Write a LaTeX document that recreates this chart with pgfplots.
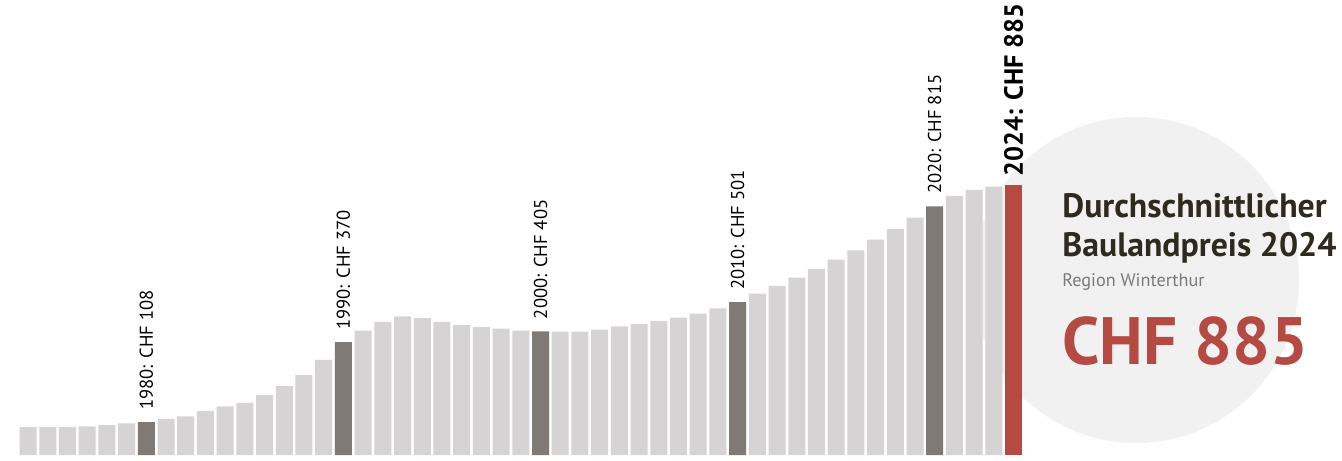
\documentclass[border=0pt]{standalone}
\usepackage{fontspec}
\setmainfont{PT Sans}
\usepackage{pgfplots}
\pgfplotsset{compat=1.18}
\definecolor{barlight}{HTML}{D5D3D4}
\definecolor{bardark}{HTML}{7F7A75}
\definecolor{barred}{HTML}{B44A42}
\definecolor{textdark}{HTML}{2E2A1D}
\definecolor{textgrey}{HTML}{7A7A7A}
\definecolor{circlegrey}{HTML}{F1F1F1}
\begin{document}
\begin{tikzpicture}[x=1pt,y=1pt]
\useasboundingbox (0,0) rectangle (671,230);
\fill[circlegrey] (568,90) circle (81.5);
\begin{axis}[
  at={(9.1pt,2.5pt)}, anchor=south west,
  scale only axis, width=502.6pt, height=135pt,
  xmin=1973.5, xmax=2024.5, ymin=0, ymax=885,
  hide axis, clip=false,
  ybar, bar width=8.5pt, bar shift=0pt,
  every node/.style={text=textdark},
]
% grey bars
\addplot[fill=barlight, draw=none] coordinates {
 (1974,91) (1975,91) (1976,91) (1977,94) (1978,98) (1979,104)
 (1981,118) (1982,127) (1983,145) (1984,159) (1985,171) (1986,196)
 (1987,226) (1988,263) (1989,312)
 (1991,408) (1992,436) (1993,454) (1994,449) (1995,436) (1996,426)
 (1997,419) (1998,414) (1999,408)
 (2001,404) (2002,404) (2003,411) (2004,422) (2005,429) (2006,440)
 (2007,450) (2008,463) (2009,481)
 (2011,529) (2012,554) (2013,581) (2014,609) (2015,640) (2016,671)
 (2017,706) (2018,741) (2019,778)
 (2021,849) (2022,869) (2023,880)
};
% decade bars
\addplot[fill=bardark, draw=none] coordinates {
 (1980,108) (1990,370) (2000,405) (2010,501) (2020,815)
};
% current year
\addplot[fill=barred, draw=none] coordinates {(2024,885)};

\tikzset{declbl/.style={rotate=90, anchor=west, inner xsep=6pt, inner ysep=0pt,
  font=\fontsize{9.3}{10}\selectfont}}
\node[declbl] at (axis cs:1980,108) {1980: CHF 108};
\node[declbl] at (axis cs:1990,370) {1990: CHF 370};
\node[declbl] at (axis cs:2000,405) {2000: CHF 405};
\node[declbl] at (axis cs:2010,501) {2010: CHF 501};
\node[declbl] at (axis cs:2020,815) {2020: CHF 815};
\node[rotate=90, anchor=west, inner xsep=4pt, inner ysep=0pt,
  font=\fontsize{13.2}{15}\selectfont\bfseries] at (axis cs:2024,885) {2024: CHF 885};
\end{axis}

\node[anchor=base west, inner sep=0pt, text=textdark,
  font=\fontsize{16.9}{18}\selectfont\bfseries] at (531,121) {Durchschnittlicher};
\node[anchor=base west, inner sep=0pt, text=textdark,
  font=\fontsize{16.9}{18}\selectfont\bfseries] at (531,101.5) {Baulandpreis 2024};
\node[anchor=base west, inner sep=0pt, text=textgrey,
  font=\fontsize{9.1}{10}\selectfont] at (531,86.5) {Region Winterthur};
\node[anchor=base west, inner sep=0pt, text=barred,
  font=\fontsize{33.5}{36}\selectfont\bfseries] at (531,47.5) {CHF 885};
\end{tikzpicture}
\end{document}
